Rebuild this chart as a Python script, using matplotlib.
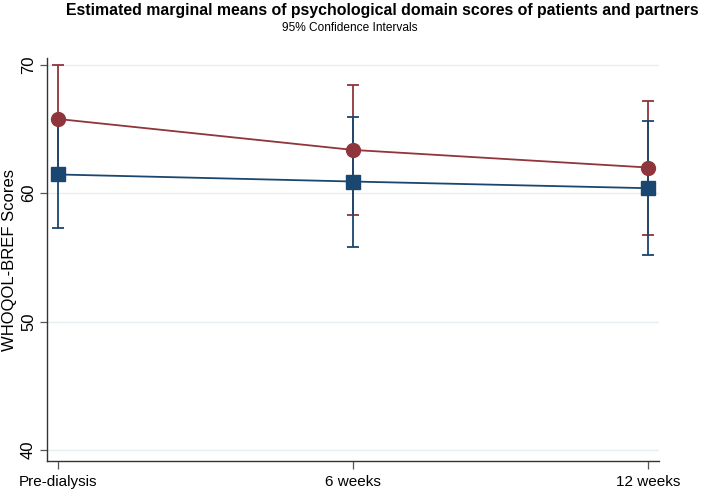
import numpy as np
import matplotlib
matplotlib.use("Agg")
import matplotlib.pyplot as plt

# ---------------- data ----------------
timepoints = ["Pre-dialysis", "6 weeks", "12 weeks"]

patients_mean = [65.77, 63.36, 61.99]
patients_lo = [61.55, 58.28, 56.77]
patients_hi = [70.0, 68.42, 67.18]

partners_mean = [61.45, 60.90, 60.38]
partners_lo = [57.30, 55.79, 55.17]
partners_hi = [65.60, 65.95, 65.64]

yticks = [40, 50, 60, 70]

# ---------------- style ----------------
plt.rcParams['font.family'] = ['Liberation Sans', 'DejaVu Sans']
red = "#90353B"
blue = "#1A476F"
grid_c = "#E6EFF2"

fig = plt.figure(figsize=(7.09, 4.96), dpi=100)
ax = fig.add_axes([0.0663, 0.0706, 0.8632, 0.812])

x = np.arange(len(timepoints))

def draw(mean, lo, hi, color, marker, ms):
    mean = np.array(mean)
    err = [mean - np.array(lo), np.array(hi) - mean]
    ax.errorbar(x, mean, yerr=err, fmt="none", ecolor=color,
                elinewidth=1.3, capsize=4, capthick=1.3, zorder=3)
    ax.plot(x, mean, color=color, lw=1.3, marker=marker, ms=ms,
            markerfacecolor=color, markeredgecolor=color, zorder=4)

draw(patients_mean, patients_lo, patients_hi, red, "o", 10)
draw(partners_mean, partners_lo, partners_hi, blue, "s", 9.5)

ax.set_xlim(-0.037, 2.037)
ax.set_ylim(39.14, 70.5)
ax.set_yticks(yticks)
ax.set_xticks(x)
ax.set_xticklabels(timepoints, fontsize=11)
for t in ax.get_yticklabels():
    t.set_rotation(90)
    t.set_va("center")
    t.set_fontsize(12)

ax.grid(axis="y", color=grid_c, lw=1.0, zorder=0)
ax.set_axisbelow(True)
ax.tick_params(axis="y", direction="out", length=5, width=0.9, color="#555555", pad=3)
ax.tick_params(axis="x", direction="out", length=6, width=0.9, color="#555555", pad=4)

for s in ["top", "right"]:
    ax.spines[s].set_visible(False)
for s in ["left", "bottom"]:
    ax.spines[s].set_color("#333333")
    ax.spines[s].set_linewidth(1.0)

ax.set_ylabel("WHOQOL-BREF Scores", fontsize=12, labelpad=3)

fig.text(0.539, 0.993, "Estimated marginal means of psychological domain scores of patients and partners",
         ha="center", va="top", fontsize=11.4, fontweight="bold")
fig.text(0.494, 0.955, "95% Confidence Intervals", ha="center", va="top", fontsize=8.6)

fig.savefig("out.png", dpi=100)
